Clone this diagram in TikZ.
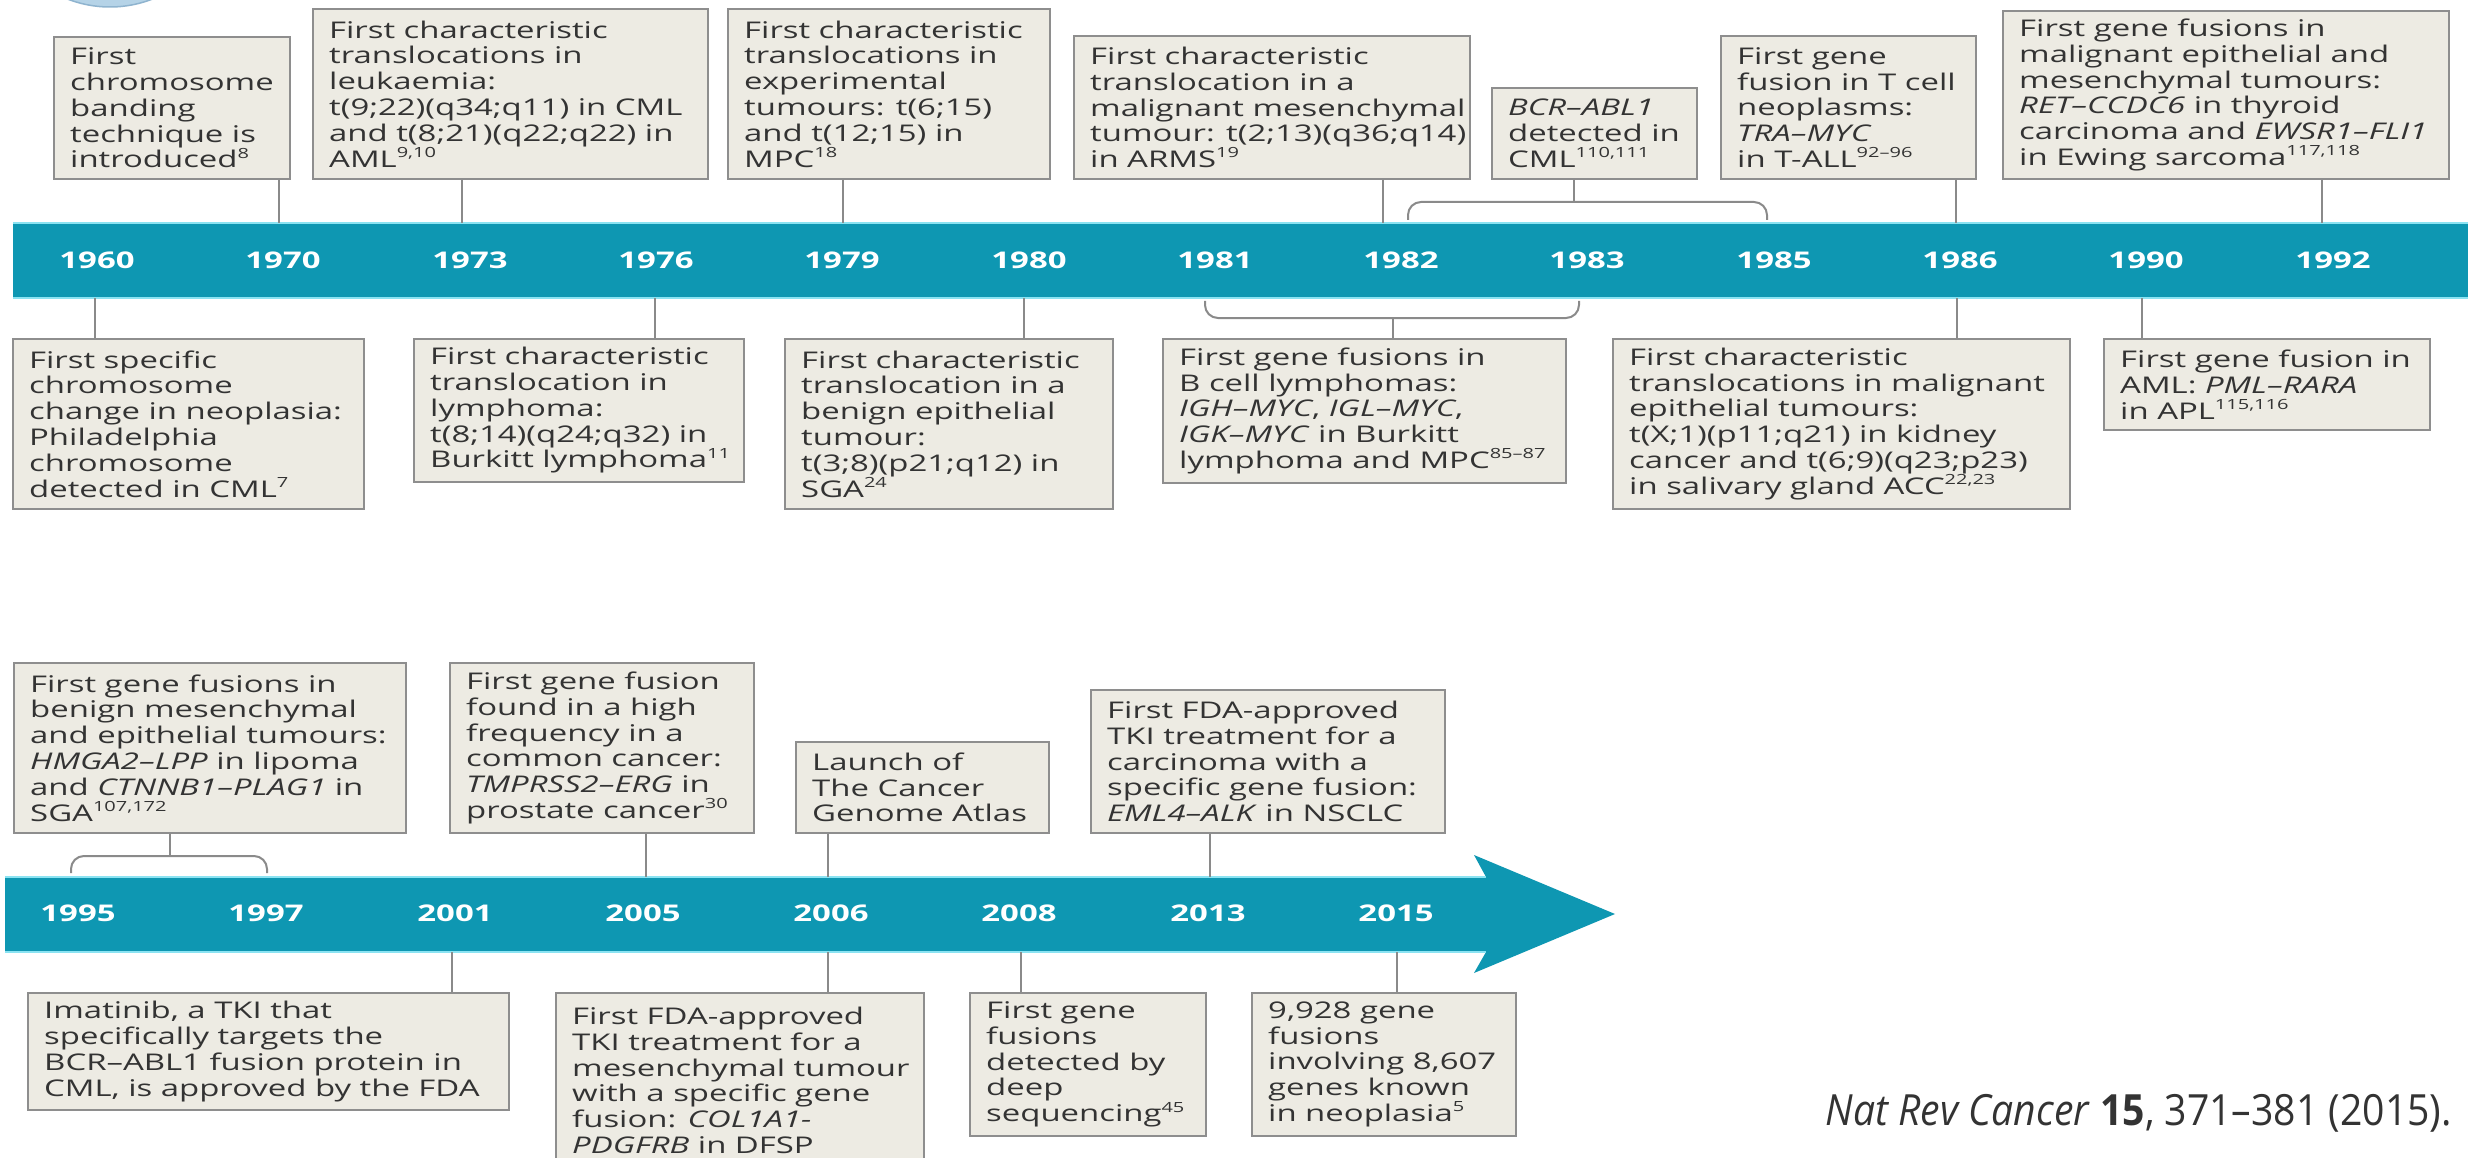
\documentclass[tikz,border=0pt]{standalone}
\usepackage{fontspec}
\setmainfont{Open Sans}[FakeStretch=1.43]
\newfontfamily\citefont{Open Sans}[FakeStretch=0.91]
\definecolor{barcol}{HTML}{0E97B2}
\definecolor{barhi}{HTML}{8BE3F2}
\definecolor{boxfill}{HTML}{EDEBE3}
\definecolor{boxline}{HTML}{8E8E8E}
\definecolor{connline}{HTML}{8A8A8A}
\definecolor{txtcol}{HTML}{333333}
\definecolor{logofill}{HTML}{B5D3E7}
\definecolor{logoline}{HTML}{8FB4CF}
\newcommand\evfont{\fontsize{23}{25.8}\selectfont}
\newcommand\yrfont{\fontsize{23}{25.8}\selectfont\bfseries}
\newcommand\refsup[1]{\raisebox{0.42em}{\fontsize{14}{14}\selectfont #1}}
\newcommand\evt[6]{%
  \pgfmathsetmacro\ew{#4-#2}\pgfmathsetmacro\eh{#5-#3}%
  \node[evbox, anchor=north west, minimum width=\ew pt, minimum height=\eh pt] (#1) at (#2,#3) {};%
  \node[evtext, anchor=west] (#1t) at (#1.west) {#6};}
\begin{document}
\begin{tikzpicture}[x=1pt,y=-1pt,
  evbox/.style={draw=boxline, fill=boxfill, line width=1.8pt, inner sep=0pt, rectangle},
  evtext/.style={text=txtcol, align=left, inner xsep=17pt, inner ysep=0pt, font=\evfont},
  yr/.style={text=white, font=\yrfont, inner sep=0pt},
  conn/.style={draw=connline, line width=2pt},
  bracket/.style={conn, rounded corners=13pt}]
\useasboundingbox (0,0) rectangle (2468,1158);
\fill[white] (0,0) rectangle (2468,1158);

% partial logo at the top edge
\begin{scope}
  \clip (0,0) rectangle (400,30);
  \draw[fill=logofill, draw=logoline, line width=1.5pt] (110,-110) circle (117);
\end{scope}

% ---------- timeline 1 ----------
\fill[barcol] (13,223) rectangle (2468,298);
\draw[barhi, line width=1.5pt] (13,223) -- (2468,223);
\draw[barhi, line width=1.5pt] (13,298) -- (2468,298);

\foreach \yy/\xx in {1960/97,1970/283,1973/470,1976/656,1979/842,1980/1029,1981/1215,1982/1401,1983/1587,1985/1774,1986/1960,1990/2146,1992/2333}
  \node[yr] (y\yy) at (\xx,260) {\yy};

% top boxes
\evt{A}{53}{36}{289}{178}{First\\chromosome\\banding\\technique is\\introduced\refsup{8}}
\evt{B}{312}{8}{707}{178}{First characteristic\\translocations in\\leukaemia:\\t(9;22)(q34;q11) in CML\\and t(8;21)(q22;q22) in\\AML\refsup{9,10}}
\evt{C}{727}{8}{1049}{178}{First characteristic\\translocations in\\experimental\\tumours: t(6;15)\\and t(12;15) in\\MPC\refsup{18}}
\evt{D}{1073}{35}{1469}{178}{First characteristic\\translocation in a\\malignant mesenchymal\\tumour: t(2;13)(q36;q14)\\in ARMS\refsup{19}}
\evt{E}{1491}{87}{1696}{178}{\textit{BCR–ABL1}\\detected in\\CML\refsup{110,111}}
\evt{F}{1720}{35}{1975}{178}{First gene\\fusion in T cell\\neoplasms:\\\textit{TRA–MYC}\\in T-ALL\refsup{92–96}}
\evt{G}{2002}{10}{2448}{178}{First gene fusions in\\malignant epithelial and\\mesenchymal tumours:\\\textit{RET–CCDC6} in thyroid\\carcinoma and \textit{EWSR1–FLI1}\\in Ewing sarcoma\refsup{117,118}}

% bottom boxes
\evt{H}{12}{338}{363}{508}{First specific\\chromosome\\change in neoplasia:\\Philadelphia\\chromosome\\detected in CML\refsup{7}}
\evt{I}{413}{338}{743}{481}{First characteristic\\translocation in\\lymphoma:\\t(8;14)(q24;q32) in\\Burkitt lymphoma\refsup{11}}
\evt{J}{784}{338}{1112}{508}{First characteristic\\translocation in a\\benign epithelial\\tumour:\\t(3;8)(p21;q12) in\\SGA\refsup{24}}
\evt{K}{1162}{338}{1565}{482}{First gene fusions in\\B cell lymphomas:\\\textit{IGH–MYC}, \textit{IGL–MYC},\\\textit{IGK–MYC} in Burkitt\\lymphoma and MPC\refsup{85–87}}
\evt{L}{1612}{338}{2069}{508}{First characteristic\\translocations in malignant\\epithelial tumours:\\t(X;1)(p11;q21) in kidney\\cancer and t(6;9)(q23;p23)\\in salivary gland ACC\refsup{22,23}}
\evt{M}{2103}{338}{2429}{429}{First gene fusion in\\AML: \textit{PML–RARA}\\in APL\refsup{115,116}}

% connector points on bar 1
\coordinate (cA) at (279,223);
\coordinate (cB) at (462,223);
\coordinate (cC) at (843,223);
\coordinate (cD) at (1383,223);
\coordinate (cE) at (1574,202);
\coordinate (cF) at (1956,223);
\coordinate (cG) at (2322,223);
\coordinate (cH) at (95,298);
\coordinate (cI) at (655,298);
\coordinate (cJ) at (1024,298);
\coordinate (cK) at (1393,318);
\coordinate (cL) at (1957,298);
\coordinate (cM) at (2142,298);
\foreach \n in {A,B,C,D,E,F,G}
  \draw[conn] (\n.south -| c\n) -- (c\n);
\foreach \n in {H,I,J,K,L,M}
  \draw[conn] (\n.north -| c\n) -- (c\n);
\draw[bracket] (1408,220) -- (1408,202) -- (1767,202) -- (1767,220);
\draw[bracket] (1205,301) -- (1205,318) -- (1579,318) -- (1579,301);

% ---------- timeline 2 ----------
\fill[barcol] (5,877) -- (1486,877) -- (1474,855) -- (1615,914) -- (1474,973) -- (1486,952) -- (5,952) -- cycle;
\draw[barhi, line width=1.5pt] (5,877) -- (1486,877);
\draw[barhi, line width=1.5pt] (5,952) -- (1486,952);

\foreach \yy/\xx in {1995/78,1997/266,2001/455,2005/643,2006/831,2008/1019,2013/1208,2015/1396}
  \node[yr] (y\yy) at (\xx,913) {\yy};

\evt{N}{13}{662}{405}{832}{First gene fusions in\\benign mesenchymal\\and epithelial tumours:\\\textit{HMGA2–LPP} in lipoma\\and \textit{CTNNB1–PLAG1} in\\SGA\refsup{107,172}}
\evt{O}{449}{662}{753}{832}{First gene fusion\\found in a high\\frequency in a\\common cancer:\\\textit{TMPRSS2–ERG} in\\prostate cancer\refsup{30}}
\evt{P}{795}{741}{1048}{832}{Launch of\\The Cancer\\Genome Atlas}
\evt{Q}{1090}{689}{1444}{832}{First FDA-approved\\TKI treatment for a\\carcinoma with a\\specific gene fusion:\\\textit{EML4–ALK} in NSCLC}

\evt{R}{27}{992}{508}{1109}{Imatinib, a TKI that\\specifically targets the\\BCR–ABL1 fusion protein in\\CML, is approved by the FDA}
\evt{S}{555}{992}{923}{1167}{First FDA-approved\\TKI treatment for a\\mesenchymal tumour\\with a specific gene\\fusion: \textit{COL1A1-}\\\textit{PDGFRB} in DFSP}
\evt{T}{969}{992}{1205}{1135}{First gene\\fusions\\detected by\\deep\\sequencing\refsup{45}}
\evt{U}{1251}{992}{1515}{1135}{9,928 gene\\fusions\\involving 8,607\\genes known\\in neoplasia\refsup{5}}

\coordinate (cN) at (170,856);
\coordinate (cO) at (646,877);
\coordinate (cP) at (828,877);
\coordinate (cQ) at (1210,877);
\coordinate (cR) at (452,952);
\coordinate (cS) at (828,952);
\coordinate (cT) at (1021,952);
\coordinate (cU) at (1397,952);
\foreach \n in {N,O,P,Q}
  \draw[conn] (\n.south -| c\n) -- (c\n);
\foreach \n in {R,S,T,U}
  \draw[conn] (\n.north -| c\n) -- (c\n);
\draw[bracket] (71,873) -- (71,856) -- (267,856) -- (267,873);

% citation
\node[anchor=east, inner sep=0pt, text=txtcol, font=\citefont\fontsize{43}{50}\selectfont] (cite) at (2452,1113)
  {\textit{Nat Rev Cancer} \textbf{15}, 371–381 (2015).};
\end{tikzpicture}
\end{document}
